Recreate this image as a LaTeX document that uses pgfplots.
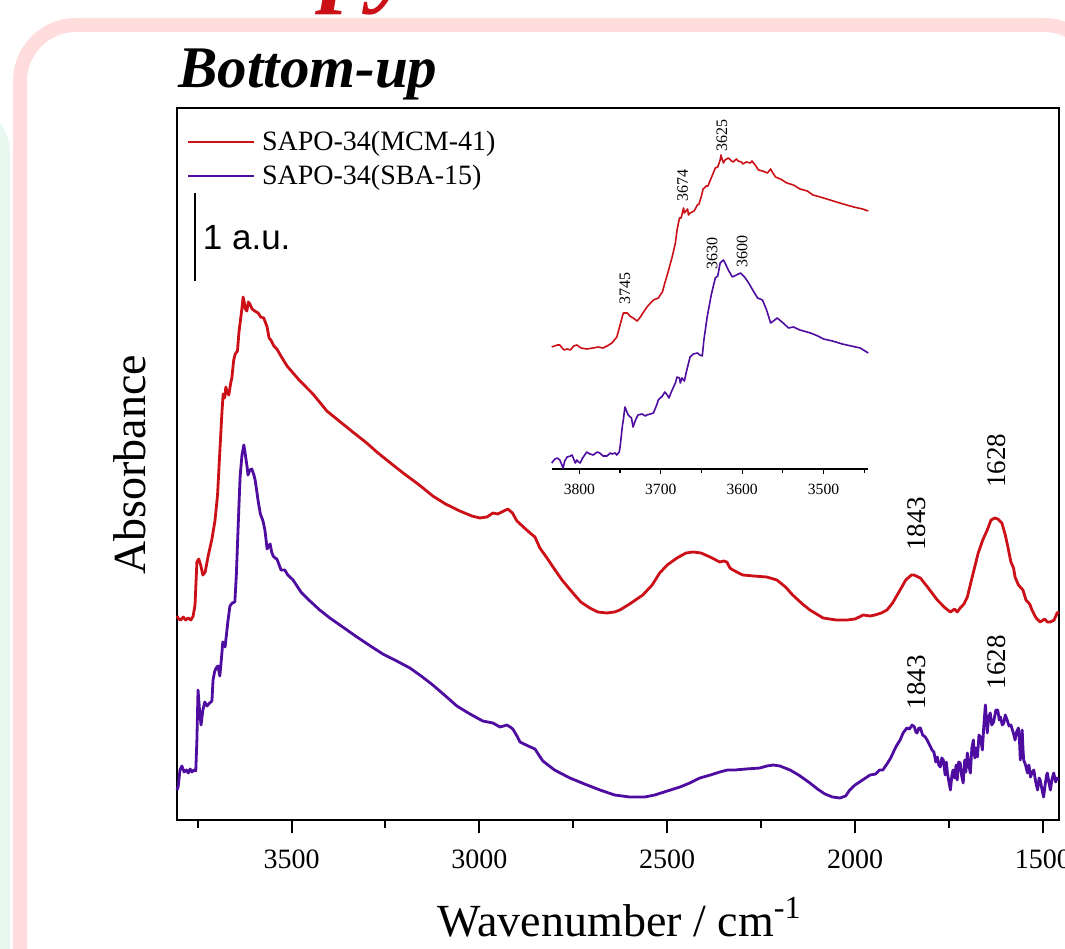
\documentclass[border=0pt]{standalone}
\usepackage{fontspec}
\setmainfont{Liberation Serif}
\newfontfamily\arialfont{Liberation Sans}
\usepackage{pgfplots}
\pgfplotsset{compat=1.18}
\definecolor{spred}{RGB}{204,16,24}
\definecolor{sppurple}{RGB}{78,12,160}
\definecolor{framepink}{RGB}{255,221,221}
\definecolor{mint}{RGB}{233,247,241}

\begin{document}
\begin{tikzpicture}[x=0.5pt,y=0.5pt]
\useasboundingbox (0,0) rectangle (1065,948);
\clip (0,0) rectangle (1065,948);
\fill[white] (0,0) rectangle (1065,948);
% slide decoration
\fill[mint, rounded corners=25pt] (-80,-100) -- (-80,845) -- (10,845) -- (10,-100) -- cycle;
\draw[framepink, line width=7pt, rounded corners=28pt] (20,-100) -- (20,923) -- (1100,923) -- (1100,-100);
\node[anchor=base west, inner sep=0pt, text=spred, font=\fontsize{50}{50}\selectfont\bfseries\itshape] at (322,954) {py};
\node[anchor=base west, inner sep=0pt, font=\fontsize{29.5}{30}\selectfont\bfseries\itshape] at (178,860) {Bottom-up};

% main spectrum
\begin{axis}[at={(88.5pt,64pt)}, anchor=south west, scale only axis,
  width=441pt, height=356pt,
  xmin=1457, xmax=3805, ymin=0, ymax=712, x dir=reverse,
  clip=false,
  axis line style={line width=1.3pt},
  xtick={1500,2000,2500,3000,3500},
  minor xtick={1750,2250,2750,3250,3750},
  ytick=\empty, xtick pos=bottom, tick align=outside,
  major tick length=6.5pt, minor tick length=4pt,
  every tick/.style={black, line width=1pt},
  /pgf/number format/1000 sep={},
  /pgf/number format/assume math mode=true,
  xticklabel style={font=\fontsize{14}{16}\selectfont},
  xticklabel shift=5pt,
  xlabel={Wavenumber / cm\textsuperscript{-1}},
  ylabel={Absorbance},
  xlabel style={at={(axis description cs:0.502,-0.136)}, anchor=center, font=\fontsize{23}{26}\selectfont},
  ylabel style={at={(axis description cs:-0.053,0.499)}, anchor=center, font=\fontsize{23}{26}\selectfont},
  legend style={at={(axis description cs:0.011,0.973)}, anchor=north west, draw=none, fill=none,
    font=\fontsize{14}{16}\selectfont, inner sep=0pt, row sep=3pt, nodes={inner sep=1.5pt}},
  legend cell align=left,
  legend image code/.code={\draw[#1, line width=1pt] (0pt,0pt) -- (33pt,0pt);},
  /tikz/every odd column/.append style={column sep=2pt},
]
\addplot[spred, line width=1.4pt, line join=round] coordinates {
(3805,204) (3800,201) (3795,200) (3788,203) (3782,200) (3775,202) (3768,200) (3762,204)
(3757,215) (3752,258) (3747,261) (3742,255) (3736,245) (3730,248) (3722,264) (3712,281)
(3704,299) (3697,325) (3691,368) (3685,410) (3682,426) (3678,422) (3675,433) (3671,427)
(3667,425) (3662,437) (3659,442) (3654,460) (3650,466) (3644,469) (3640,488) (3636,500)
(3632,512) (3629,523) (3626,518) (3623,511) (3619,509) (3615,518) (3611,516) (3605,511)
(3598,509) (3589,507) (3582,503) (3574,502) (3565,493) (3560,482) (3555,480) (3547,474)
(3539,471) (3530,465) (3512,454) (3480,440) (3443,426) (3406,409) (3370,398) (3337,388)
(3300,377) (3273,368) (3240,358) (3203,347) (3160,335) (3124,324) (3090,316) (3052,309)
(3020,304) (2999,302) (2980,303) (2964,307) (2951,306) (2935,309) (2924,311) (2912,307)
(2900,299) (2880,292) (2865,287) (2852,283) (2839,272) (2820,262) (2804,253) (2780,240)
(2751,227) (2730,218) (2706,212) (2685,208) (2661,207) (2640,208) (2626,210) (2600,216)
(2565,225) (2540,235) (2520,247) (2500,255) (2474,262) (2450,267) (2431,268) (2410,267)
(2386,263) (2360,258) (2350,259) (2341,258) (2333,252) (2325,250) (2299,245) (2270,244)
(2235,243) (2208,240) (2185,233) (2166,225) (2140,216) (2120,210) (2085,202) (2050,200)
(2021,200) (2000,201) (1978,205) (1960,204) (1947,205) (1930,207) (1915,210) (1900,217)
(1880,230) (1865,240) (1850,245) (1843,245) (1826,242) (1805,232) (1781,220) (1760,212)
(1746,208) (1735,211) (1728,208) (1720,212) (1710,216) (1701,223) (1690,240) (1672,267)
(1660,280) (1648,290) (1638,300) (1628,302) (1620,301) (1609,297) (1600,285) (1593,273)
(1585,258) (1578,252) (1574,243) (1565,235) (1553,230) (1545,220) (1535,216) (1529,210)
(1518,202) (1507,198) (1495,201) (1488,198) (1480,198) (1470,200) (1462,207) (1457,208)
};
\addlegendentry{SAPO-34(MCM-41)}
\addplot[sppurple, line width=1.4pt, line join=round] coordinates {
(3805,30) (3802,33) (3797,50) (3792,54) (3786,48) (3780,50) (3775,47) (3770,51) (3765,48)
(3760,50) (3755,49) (3752,80) (3749,130) (3745,110) (3741,95) (3736,110) (3731,118)
(3725,114) (3718,117) (3712,119) (3709,140) (3705,148) (3701,152) (3696,154) (3691,144)
(3687,160) (3683,178) (3679,175) (3677,173) (3672,190) (3669,200) (3664,214) (3658,217)
(3651,218) (3647,245) (3643,285) (3640,315) (3637,343) (3632,365) (3627,375) (3624,368)
(3621,360) (3618,352) (3616,345) (3611,350) (3606,351) (3601,346) (3597,340) (3593,330)
(3589,319) (3583,306) (3576,299) (3571,290) (3565,271) (3561,274) (3557,276) (3553,268)
(3549,264) (3544,262) (3539,261) (3534,256) (3528,250) (3518,250) (3510,245) (3496,240)
(3475,228) (3451,219) (3425,210) (3398,202) (3360,192) (3326,183) (3290,174) (3257,166)
(3220,159) (3185,152) (3155,144) (3124,135) (3090,124) (3060,114) (3025,106) (2991,99)
(2964,97) (2945,93) (2935,94) (2927,95) (2918,93) (2911,91) (2900,84) (2892,78) (2870,74)
(2852,71) (2840,64) (2831,59) (2800,50) (2759,42) (2720,36) (2679,30) (2640,25) (2600,23)
(2560,23) (2533,25) (2500,29) (2466,33) (2440,37) (2413,42) (2385,45) (2360,48) (2340,50)
(2320,50) (2290,51) (2253,52) (2235,54) (2218,55) (2200,54) (2173,50) (2150,45) (2120,37)
(2100,31) (2080,26) (2060,23) (2040,22) (2025,24) (2014,30) (2000,35) (1980,40) (1960,45)
(1945,46) (1935,50) (1926,50) (1915,56) (1905,62) (1899,67) (1890,74) (1880,80) (1872,87)
(1862,92) (1855,91) (1848,95) (1842,93) (1838,88) (1835,87) (1830,92) (1826,92) (1820,85)
(1813,83) (1808,80) (1800,74) (1795,70) (1790,68) (1785,58) (1781,63) (1777,55) (1773,53)
(1769,62) (1765,60) (1760,45) (1757,58) (1754,47) (1750,38) (1746,30) (1742,45) (1739,50)
(1735,42) (1731,55) (1728,40) (1724,58) (1720,57) (1716,44) (1712,37) (1708,60) (1705,48)
(1701,67) (1697,55) (1693,47) (1689,72) (1685,80) (1681,62) (1677,72) (1674,63) (1670,85)
(1666,83) (1663,75) (1661,70) (1657,95) (1653,115) (1650,100) (1648,87) (1644,103)
(1640,107) (1636,95) (1631,98) (1625,110) (1620,110) (1616,100) (1613,103) (1608,95)
(1604,97) (1600,105) (1595,100) (1590,94) (1585,95) (1581,90) (1577,85) (1574,80) (1570,88)
(1565,92) (1562,78) (1560,60) (1558,75) (1555,90) (1553,72) (1551,60) (1546,55) (1541,47)
(1537,55) (1533,43) (1528,48) (1524,50) (1519,38) (1514,30) (1510,42) (1507,40) (1502,30)
(1498,23) (1494,35) (1490,45) (1488,47) (1484,38) (1480,30) (1476,40) (1471,47) (1466,38)
(1462,42) (1458,40)
};
\addlegendentry{SAPO-34(SBA-15)}
% scale bar
\draw[line width=1pt] (axis cs:3757,627) -- (axis cs:3757,539);
\node[anchor=west, inner sep=0pt, font=\arialfont\fontsize{17.5}{20}\selectfont] at (axis cs:3737,582) {1 a.u.};
% peak labels
\node[rotate=90, inner sep=0pt, font=\fontsize{13.5}{14}\selectfont] at (axis cs:1622,359) {1628};
\node[rotate=90, inner sep=0pt, font=\fontsize{13.5}{14}\selectfont] at (axis cs:1835,296) {1843};
\node[rotate=90, inner sep=0pt, font=\fontsize{13.5}{14}\selectfont] at (axis cs:1835,138) {1843};
\node[rotate=90, inner sep=0pt, font=\fontsize{13.5}{14}\selectfont] at (axis cs:1622,158) {1628};
\end{axis}

% inset: OH stretching region
\begin{axis}[at={(275.85pt,239.5pt)}, anchor=south west, scale only axis,
  width=158.3pt, height=172.5pt,
  xmin=3445, xmax=3834, ymin=0, ymax=345, x dir=reverse,
  clip=false,
  axis x line*=bottom, axis y line=none,
  x axis line style={-, line width=0.75pt},
  xtick={3500,3600,3700,3800},
  minor xtick={3450,3550,3650,3750},
  tick align=outside,
  major tick length=2.5pt, minor tick length=2pt,
  every tick/.style={black, line width=0.6pt},
  /pgf/number format/1000 sep={},
  /pgf/number format/assume math mode=true,
  xticklabel style={font=\fontsize{7.8}{9}\selectfont},
  xticklabel shift=1.5pt,
]
\addplot[spred, line width=0.8pt, line join=round] coordinates {
(3834,122) (3827,124) (3824,124) (3819,119) (3815,120) (3811,119) (3807,123) (3803,124)
(3798,121) (3791,120) (3783,121) (3777,122) (3771,121) (3766,123) (3760,126) (3754,132)
(3750,144) (3746,156) (3741,156) (3738,153) (3734,151) (3729,148) (3725,152) (3722,156)
(3716,163) (3709,169) (3703,171) (3698,177) (3695,186) (3691,197) (3686,212) (3682,226)
(3680,239) (3677,251) (3675,251) (3672,261) (3671,256) (3669,258) (3667,260) (3666,254)
(3664,256) (3659,258) (3655,264) (3653,265) (3650,273) (3648,280) (3644,283) (3642,283)
(3637,293) (3633,301) (3630,302) (3627,309) (3626,314) (3625,311) (3623,306) (3621,309)
(3617,311) (3613,308) (3611,307) (3607,310) (3605,308) (3601,307) (3599,305) (3595,307)
(3590,306) (3588,308) (3584,304) (3580,299) (3575,298) (3569,296) (3565,300) (3563,297)
(3559,292) (3553,290) (3545,286) (3537,284) (3529,280) (3520,278) (3513,274) (3504,272)
(3488,268) (3476,265) (3463,262) (3452,260) (3445,258)
};
\addplot[sppurple, line width=0.8pt, line join=round] coordinates {
(3834,6) (3830,10) (3827,11) (3824,9) (3821,3) (3820,1) (3818,8) (3815,12) (3811,13)
(3809,14) (3806,8) (3805,6) (3803,9) (3801,7) (3799,6) (3796,11) (3791,17) (3787,15)
(3783,14) (3778,17) (3775,16) (3771,13) (3766,13) (3762,16) (3760,15) (3756,16) (3754,14)
(3751,17) (3750,22) (3747,44) (3746,49) (3744,62) (3741,56) (3740,54) (3736,51) (3734,42)
(3731,49) (3728,54) (3723,55) (3719,53) (3717,54) (3713,55) (3709,56) (3705,64) (3703,69)
(3698,73) (3695,77) (3692,74) (3690,71) (3686,79) (3682,86) (3680,92) (3677,91) (3676,86)
(3674,91) (3671,88) (3668,99) (3664,112) (3660,115) (3655,116) (3652,114) (3649,113)
(3647,129) (3643,152) (3638,174) (3633,191) (3630,193) (3627,206) (3623,209) (3621,206)
(3617,199) (3612,192) (3607,194) (3602,196) (3597,192) (3592,186) (3587,179) (3581,171)
(3575,169) (3570,159) (3565,146) (3560,149) (3557,151) (3551,147) (3543,141) (3537,142)
(3529,139) (3516,136) (3507,133) (3500,130) (3489,128) (3477,125) (3466,123) (3455,121)
(3449,118) (3445,116)
};
\node[rotate=90, inner sep=0pt, font=\fontsize{8}{9}\selectfont] at (axis cs:3744,180) {3745};
\node[rotate=90, inner sep=0pt, font=\fontsize{8}{9}\selectfont] at (axis cs:3673,283) {3674};
\node[rotate=90, inner sep=0pt, font=\fontsize{8}{9}\selectfont] at (axis cs:3625,333) {3625};
\node[rotate=90, inner sep=0pt, font=\fontsize{8}{9}\selectfont] at (axis cs:3637,215) {3630};
\node[rotate=90, inner sep=0pt, font=\fontsize{8}{9}\selectfont] at (axis cs:3600,217) {3600};
\end{axis}
\end{tikzpicture}
\end{document}
